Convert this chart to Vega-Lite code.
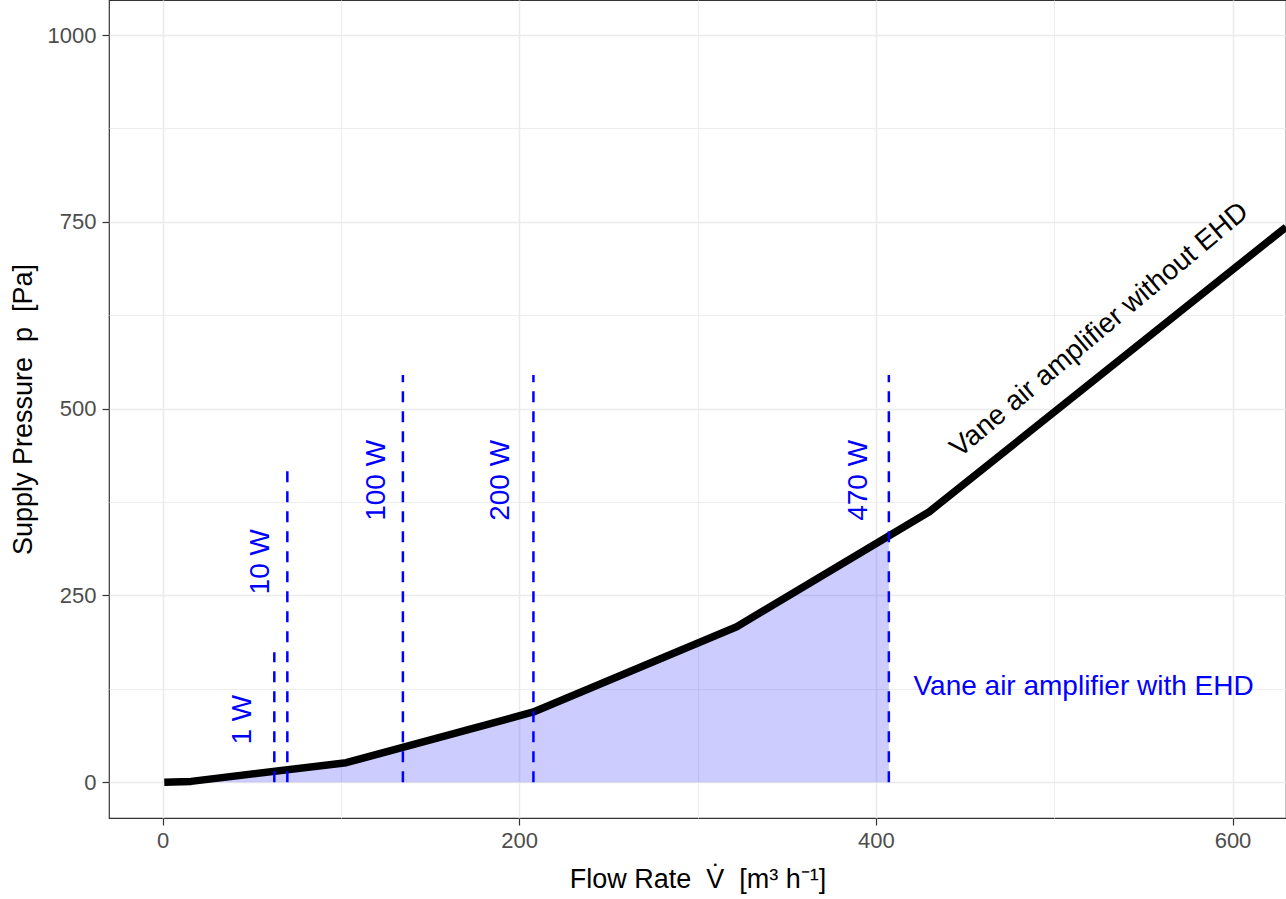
{
  "$schema": "https://vega.github.io/schema/vega-lite/v6.json",
  "width": 1177,
  "height": 818,
  "autosize": {"type": "none"},
  "padding": {"left": 109, "top": 0, "right": 0, "bottom": 81},
  "background": "white",
  "config": {
    "view": {"stroke": "#333333", "strokeWidth": 1.2},
    "font": "Liberation Sans",
    "axis": {
      "labelFont": "Liberation Sans",
      "titleFont": "Liberation Sans",
      "labelFontSize": 22,
      "labelColor": "#4D4D4D",
      "titleFontSize": 27,
      "titleFontWeight": "normal",
      "titleColor": "black",
      "domain": false,
      "tickColor": "#333333",
      "tickSize": 7,
      "tickWidth": 1.2,
      "gridColor": "#EBEBEB"
    }
  },
  "datasets": {
    "curve": [
      {"flow": 1, "pressure": 0},
      {"flow": 16, "pressure": 1},
      {"flow": 103, "pressure": 26},
      {"flow": 208, "pressure": 94},
      {"flow": 322, "pressure": 208},
      {"flow": 430, "pressure": 362},
      {"flow": 630, "pressure": 743}
    ],
    "ehd": [
      {"flow": 1, "pressure": 0},
      {"flow": 16, "pressure": 1},
      {"flow": 103, "pressure": 26},
      {"flow": 208, "pressure": 94},
      {"flow": 322, "pressure": 208},
      {"flow": 407.3, "pressure": 329}
    ],
    "power": [
      {"label": "1 W", "flow": 62.7, "base": 0, "top": 174, "lx": 45.4, "ly": 83.7},
      {"label": "10 W", "flow": 70, "base": 0, "top": 424, "lx": 55.2, "ly": 295},
      {"label": "100 W", "flow": 134.8, "base": 0, "top": 545, "lx": 120.2, "ly": 404},
      {"label": "200 W", "flow": 208, "base": 0, "top": 545, "lx": 190, "ly": 404},
      {"label": "470 W", "flow": 407.3, "base": 0, "top": 545, "lx": 390.5, "ly": 404}
    ],
    "series": [
      {"label": "Vane air amplifier without EHD", "flow": 525.5, "pressure": 605}
    ],
    "series2": [
      {"label": "Vane air amplifier with EHD", "flow": 516.5, "pressure": 128}
    ]
  },
  "layer": [
    {
      "data": {"name": "ehd"},
      "mark": {"type": "area", "color": "blue", "opacity": 0.2, "clip": true},
      "encoding": {
        "x": {
          "field": "flow", "type": "quantitative",
          "scale": {"domain": [-30, 630], "nice": false, "zero": false},
          "axis": {
            "values": [0, 100, 200, 300, 400, 500, 600],
            "format": "d",
            "labelExpr": "datum.value % 200 === 0 ? datum.label : ''",
            "tickOpacity": {"condition": {"test": "datum.value % 200 === 0", "value": 1}, "value": 0},
            "gridWidth": {"condition": {"test": "datum.value % 200 === 0", "value": 1.6}, "value": 0.9},
            "labelPadding": 5,
            "titlePadding": 15,
            "title": "Flow Rate \u00a0V̇\u00a0 [m³ h⁻¹]"
          }
        },
        "y": {
          "field": "pressure", "type": "quantitative",
          "scale": {"domain": [-48, 1047], "nice": false, "zero": false},
          "axis": {
            "values": [0, 125, 250, 375, 500, 625, 750, 875, 1000],
            "format": "d",
            "labelExpr": "datum.value % 250 === 0 ? datum.label : ''",
            "tickOpacity": {"condition": {"test": "datum.value % 250 === 0", "value": 1}, "value": 0},
            "gridWidth": {"condition": {"test": "datum.value % 250 === 0", "value": 1.6}, "value": 0.9},
            "labelPadding": 6,
            "titlePadding": 10,
            "title": "Supply Pressure \u00a0p\u00a0 [Pa]"
          }
        }
      }
    },
    {
      "data": {"name": "curve"},
      "mark": {"type": "line", "color": "black", "strokeWidth": 7.5, "strokeCap": "butt", "strokeJoin": "round", "clip": true},
      "encoding": {
        "x": {"field": "flow", "type": "quantitative"},
        "y": {"field": "pressure", "type": "quantitative"}
      }
    },
    {
      "data": {"name": "power"},
      "mark": {"type": "rule", "color": "blue", "strokeWidth": 2.5, "strokeDash": [11, 9]},
      "encoding": {
        "x": {"field": "flow", "type": "quantitative"},
        "y": {"field": "base", "type": "quantitative"},
        "y2": {"field": "top"}
      }
    },
    {
      "data": {"name": "power"},
      "mark": {"type": "text", "color": "blue", "fontSize": 28, "angle": 270, "align": "center", "baseline": "middle"},
      "encoding": {
        "x": {"field": "lx", "type": "quantitative"},
        "y": {"field": "ly", "type": "quantitative"},
        "text": {"field": "label", "type": "nominal"}
      }
    },
    {
      "data": {"name": "series"},
      "mark": {"type": "text", "color": "black", "fontSize": 28, "angle": 320, "align": "center", "baseline": "middle"},
      "encoding": {
        "x": {"field": "flow", "type": "quantitative"},
        "y": {"field": "pressure", "type": "quantitative"},
        "text": {"field": "label", "type": "nominal"}
      }
    },
    {
      "data": {"name": "series2"},
      "mark": {"type": "text", "color": "blue", "fontSize": 28, "align": "center", "baseline": "middle"},
      "encoding": {
        "x": {"field": "flow", "type": "quantitative"},
        "y": {"field": "pressure", "type": "quantitative"},
        "text": {"field": "label", "type": "nominal"}
      }
    }
  ]
}
